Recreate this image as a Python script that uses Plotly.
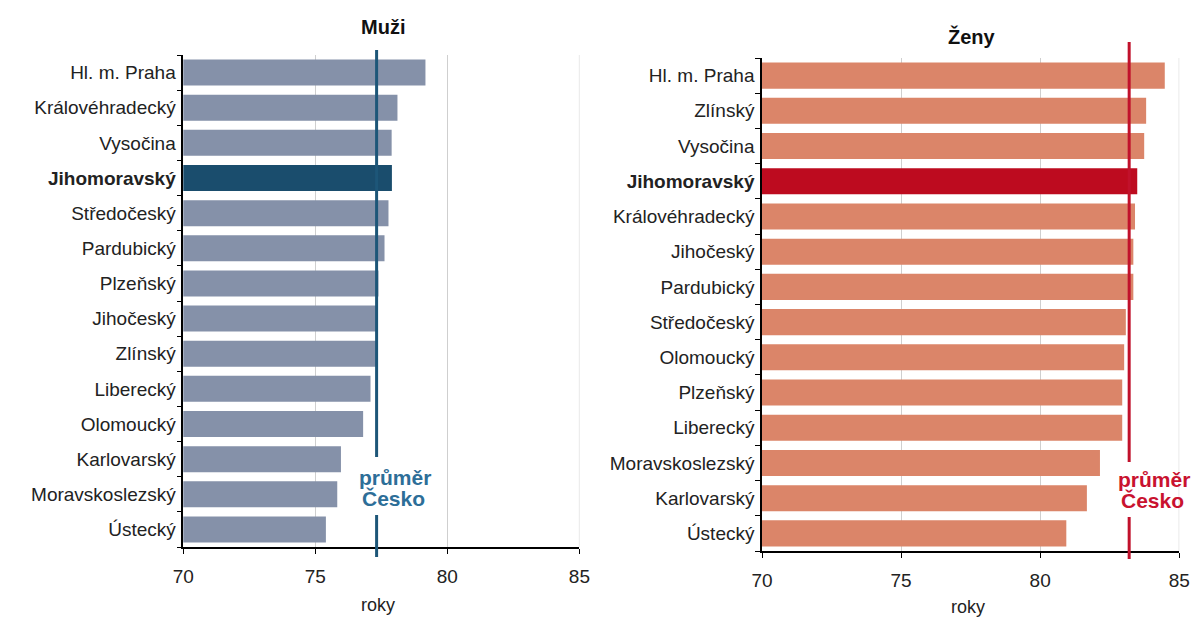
import plotly.graph_objects as go

# ---- data ----
men_regions = ["Hl. m. Praha", "Královéhradecký", "Vysočina", "Jihomoravský", "Středočeský",
               "Pardubický", "Plzeňský", "Jihočeský", "Zlínský", "Liberecký", "Olomoucký",
               "Karlovarský", "Moravskoslezský", "Ústecký"]
men_values = [79.17, 78.11, 77.89, 77.90, 77.77, 77.62, 77.39, 77.33, 77.31, 77.09, 76.81,
               75.97, 75.83, 75.40]
men_mean = 77.32

women_regions = ["Hl. m. Praha", "Zlínský", "Vysočina", "Jihomoravský", "Královéhradecký",
                 "Jihočeský", "Pardubický", "Středočeský", "Olomoucký", "Plzeňský", "Liberecký",
                 "Moravskoslezský", "Karlovarský", "Ústecký"]
women_values = [84.48, 83.81, 83.74, 83.49, 83.41, 83.35, 83.35, 83.08, 83.02, 82.95, 82.95,
                82.15, 81.68, 80.94]
women_mean = 83.2

highlight = "Jihomoravský"
x_ticks = [70, 75, 80, 85]
mean_label_1 = "průměr"
mean_label_2 = "Česko"

W, H = 1203, 617


def px(x):
    return x / W


def py(y):
    return 1 - y / H


MEN_BAR, MEN_HL, MEN_LINE, MEN_TXT = "#8591a9", "#1a4d6d", "#1d5678", "#2d6e98"
WOM_BAR, WOM_HL, WOM_LINE, WOM_TXT = "#db8569", "#bd0b1f", "#c1112b", "#c9122f"
GRID = "#cfcfcf"

FONT = "Arial, Liberation Sans, sans-serif"

fig = go.Figure()

fig.add_trace(go.Bar(
    x=men_values, y=men_regions, orientation="h",
    marker=dict(color=[MEN_HL if r == highlight else MEN_BAR for r in men_regions], line=dict(width=0)),
    xaxis="x", yaxis="y", showlegend=False))
fig.add_trace(go.Bar(
    x=women_values, y=women_regions, orientation="h",
    marker=dict(color=[WOM_HL if r == highlight else WOM_BAR for r in women_regions], line=dict(width=0)),
    xaxis="x2", yaxis="y2", showlegend=False))


def ticktexts(regions):
    return [f"<b>{r}</b>" if r == highlight else r for r in regions]


xaxis_common = dict(range=[x_ticks[0], x_ticks[-1]], tickvals=x_ticks, ticks="outside", ticklen=5,
                    tickcolor="#000", showline=True, linecolor="#000", linewidth=1.5, showgrid=True,
                    gridcolor=GRID, gridwidth=1, zeroline=False, fixedrange=True, ticklabelstandoff=6,
                    tickfont=dict(family=FONT, size=19, color="#222"))
yaxis_common = dict(type="category", autorange="reversed", ticks="outside", ticklen=5, tickcolor="#000",
                    tickson="boundaries", showline=True, linecolor="#000", linewidth=1.5,
                    showgrid=False, zeroline=False, fixedrange=True, ticklabelstandoff=2,
                    tickfont=dict(family=FONT, size=19, color="#222"))

fig.update_layout(
    width=W, height=H, margin=dict(l=0, r=0, t=0, b=0),
    paper_bgcolor="white", plot_bgcolor="white", bargap=0.26,
    xaxis=dict(domain=[px(175.5), px(579)], anchor="y", **xaxis_common),
    yaxis=dict(domain=[py(547), py(55)], anchor="x",
               categoryorder="array", categoryarray=men_regions,
               tickvals=men_regions, ticktext=ticktexts(men_regions), **yaxis_common),
    xaxis2=dict(domain=[px(765), px(1190)], anchor="y2", **xaxis_common),
    yaxis2=dict(domain=[py(551), py(58)], anchor="x2",
                categoryorder="array", categoryarray=women_regions,
                tickvals=women_regions, ticktext=ticktexts(women_regions), **yaxis_common),
)

# gridline at the right edge of each panel (plotly skips it at the range end)
for xref, yref in [("x", "y domain"), ("x2", "y2 domain")]:
    fig.add_shape(type="line", xref=xref, yref=yref, x0=x_ticks[-1], x1=x_ticks[-1], y0=0, y1=1,
                  line=dict(color=GRID, width=1), layer="below")

# mean lines with gap for label
for xref, mean, col, segs in [("x", men_mean, MEN_LINE, [(50, 457), (515, 557)]),
                              ("x2", women_mean, WOM_LINE, [(42, 462), (517, 559)])]:
    for y0, y1 in segs:
        fig.add_shape(type="line", xref=xref, yref="paper", x0=mean, x1=mean,
                      y0=py(y0), y1=py(y1), line=dict(color=col, width=3), layer="above")


def label(x, y, text, size, color, bold=False):
    fig.add_annotation(xref="paper", yref="paper", x=px(x), y=py(y), text=text, showarrow=False,
                       xanchor="center", yanchor="middle",
                       font=dict(family=FONT, size=size, color=color, weight="bold" if bold else "normal"))


label(391, 477, mean_label_1, 21, MEN_TXT, True)
label(390, 498, mean_label_2, 21, MEN_TXT, True)
label(1164, 479, mean_label_1, 21, WOM_TXT, True)
label(1163, 500, mean_label_2, 21, WOM_TXT, True)

label(379, 27, "Muži", 20, "#111", True)
label(979, 36, "Ženy", 20, "#111", True)

label(374, 605, "roky", 18, "#222")
label(975, 607, "roky", 18, "#222")

fig.write_html(
    "out.html",
    config={"responsive": False, "displayModeBar": False},
    post_script="document.body.style.margin='0';document.documentElement.style.overflow='hidden';",
)
